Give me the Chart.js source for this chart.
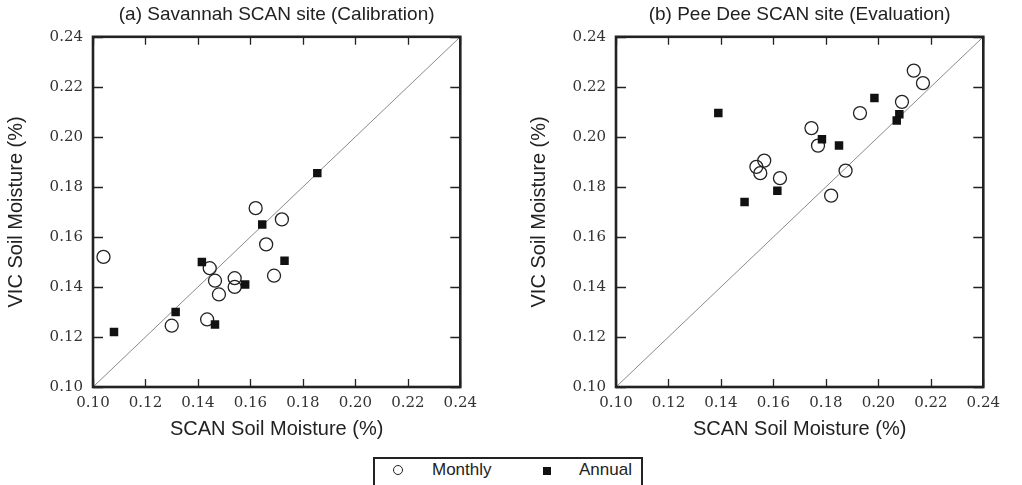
<!DOCTYPE html>
<html>
<head>
<meta charset="utf-8">
<script src="https://cdn.jsdelivr.net/npm/chart.js@4.4.1/dist/chart.umd.min.js"></script>
<style>
  body { margin: 0; background: #fff; }
  #wrap { position: relative; width: 1022px; height: 485px; overflow: hidden; background: #fff; }
  .plot { position: absolute; top: 0; width: 484px; height: 445px; }
  #legend { position: absolute; left: 373px; top: 457px; width: 266px; height: 40px;
            border: 2px solid #222; border-bottom: none; }
  .lg { position: absolute; font: 17px "Liberation Sans", Arial, sans-serif; color: #222; top: 460px; }
  #mk-circle { position: absolute; left: 393px; top: 465px; width: 10px; height: 10px;
               border: 1.3px solid #222; border-radius: 50%; box-sizing: border-box; }
  #mk-square { position: absolute; left: 543px; top: 467px; width: 8px; height: 8px; background: #111; }
</style>
</head>
<body>
<div id="wrap">
  <div class="plot" style="left:0px"><canvas id="chartA"></canvas></div>
  <div class="plot" style="left:523px"><canvas id="chartB"></canvas></div>
  <div id="legend"></div>
  <div id="mk-circle"></div>
  <div class="lg" style="left:432px">Monthly</div>
  <div id="mk-square"></div>
  <div class="lg" style="left:579px">Annual</div>
</div>
<script>
// Savannah SCAN site (calibration)
const savMonthlyX = [0.104, 0.162, 0.172, 0.166, 0.1445, 0.1465, 0.154, 0.154, 0.148, 0.169, 0.1435, 0.130];
const savMonthlyY = [0.152, 0.1715, 0.167, 0.157, 0.1475, 0.1425, 0.1435, 0.140, 0.137, 0.1445, 0.127, 0.1245];
const savAnnualX = [0.108, 0.1315, 0.1415, 0.1465, 0.158, 0.1645, 0.173, 0.1855];
const savAnnualY = [0.122, 0.130, 0.150, 0.125, 0.141, 0.165, 0.1505, 0.1855];

// Pee Dee SCAN site (evaluation)
const peeMonthlyX = [0.2135, 0.217, 0.209, 0.193, 0.1745, 0.177, 0.1565, 0.1535, 0.155, 0.1625, 0.1875, 0.182];
const peeMonthlyY = [0.2265, 0.2215, 0.214, 0.2095, 0.2035, 0.1965, 0.1905, 0.188, 0.1855, 0.1835, 0.1865, 0.1765];
const peeAnnualX = [0.139, 0.149, 0.1615, 0.1785, 0.185, 0.1985, 0.208, 0.207];
const peeAnnualY = [0.2095, 0.174, 0.1785, 0.199, 0.1965, 0.2155, 0.209, 0.2065];

// axis range / 1:1 line
const axisMin = 0.10;
const axisMax = 0.24;
const axisStep = 0.02;
const oneToOne = [0.10, 0.24];

const toPoints = (xs, ys) => xs.map((x, i) => ({ x: x, y: ys[i] }));

// box around the plot area with inward ticks on all four sides
const frameTicks = {
  id: "frameTicks",
  afterDraw(chart) {
    const { ctx, chartArea: a, scales } = chart;
    ctx.save();
    ctx.strokeStyle = "#222";
    ctx.lineWidth = 1.3;
    ctx.beginPath();
    scales.x.ticks.forEach((t) => {
      const px = Math.round(scales.x.getPixelForValue(t.value)) + 0.5;
      ctx.moveTo(px, a.bottom); ctx.lineTo(px, a.bottom - 8);
      ctx.moveTo(px, a.top); ctx.lineTo(px, a.top + 8);
    });
    scales.y.ticks.forEach((t) => {
      const py = Math.round(scales.y.getPixelForValue(t.value)) + 0.5;
      ctx.moveTo(a.left, py); ctx.lineTo(a.left + 10, py);
      ctx.moveTo(a.right, py); ctx.lineTo(a.right - 10, py);
    });
    ctx.stroke();
    ctx.lineWidth = 2.6;
    ctx.strokeRect(a.left, a.top, a.width, a.height);
    ctx.restore();
  },
};

function axis(title, isX) {
  return {
    type: "linear",
    min: axisMin,
    max: axisMax,
    grid: { display: false, drawTicks: false },
    border: { display: false },
    ticks: {
      stepSize: axisStep,
      padding: isX ? 7 : 10,
      color: "#333",
      font: { family: "DejaVu Serif", size: 15 },
      callback: (v) => v.toFixed(2),
    },
    title: {
      display: true,
      text: title,
      color: "#222",
      font: { family: "Liberation Sans", size: 20 },
      padding: isX ? { top: 0, bottom: 4 } : { top: 4, bottom: 0 },
    },
    afterFit: (scale) => {
      if (isX) scale.height = 58;
      else scale.width = 93;
    },
  };
}

function makeChart(id, title, mx, my, ax, ay) {
  const ctx = document.getElementById(id).getContext("2d");
  return new Chart(ctx, {
    type: "scatter",
    data: {
      datasets: [
        {
          label: "Annual",
          data: toPoints(ax, ay),
          pointStyle: "rect",
          pointRadius: 6,
          backgroundColor: "#111",
          borderColor: "#111",
          borderWidth: 0,
        },
        {
          label: "Monthly",
          data: toPoints(mx, my),
          pointStyle: "circle",
          pointRadius: 6.5,
          backgroundColor: "rgba(0,0,0,0)",
          borderColor: "#222",
          borderWidth: 1.3,
        },
        {
          label: "1:1",
          data: toPoints(oneToOne, oneToOne),
          showLine: true,
          borderColor: "#8a8a8a",
          borderWidth: 1,
          pointRadius: 0,
        },
      ],
    },
    options: {
      responsive: true,
      maintainAspectRatio: false,
      animation: false,
      layout: { padding: { right: 4 } },
      plugins: {
        legend: { display: false },
        tooltip: { enabled: false },
        title: {
          display: true,
          text: title,
          fullSize: false,
          color: "#222",
          font: { family: "Liberation Sans", size: 19, weight: "normal" },
          padding: { top: 3, bottom: 11 },
        },
      },
      scales: {
        x: axis("SCAN Soil Moisture (%)", true),
        y: axis("VIC Soil Moisture (%)", false),
      },
    },
    plugins: [frameTicks],
  });
}

makeChart("chartA", "(a) Savannah SCAN site (Calibration)", savMonthlyX, savMonthlyY, savAnnualX, savAnnualY);
makeChart("chartB", "(b) Pee Dee SCAN site (Evaluation)", peeMonthlyX, peeMonthlyY, peeAnnualX, peeAnnualY);
</script>
</body>
</html>
